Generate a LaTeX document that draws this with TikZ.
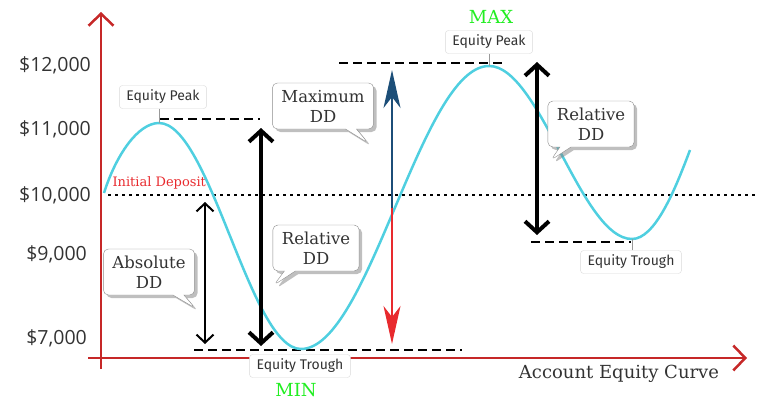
\documentclass[tikz,border=0pt]{standalone}
\usepackage{fontspec}
\setmainfont{DejaVu Serif}
\setsansfont{Open Sans}
\newfontfamily\tagsf{Fira Sans}
\usetikzlibrary{arrows.meta,shapes.callouts,shadows}
\definecolor{axisred}{HTML}{C62828}
\definecolor{curvecyan}{HTML}{4FCFE0}
\definecolor{maxblue}{HTML}{1C4E78}
\definecolor{minred}{HTML}{E82A2E}
\definecolor{txtgray}{HTML}{333333}
\definecolor{hitgreen}{HTML}{22EE22}
\begin{document}
\begin{tikzpicture}[x=1pt,y=-1pt,
  axis/.style={axisred,line width=2.5pt,-{Straight Barb[length=12pt,width=25pt]}},
  level/.style={line width=2pt,dash pattern=on 9pt off 5pt},
  tick/.style={anchor=east,inner xsep=0pt,text=txtgray,font=\sffamily\fontsize{19.5}{22}\selectfont},
  tag/.style={draw=black!15,fill=white,rounded corners=3pt,text=txtgray,font=\tagsf\fontsize{14}{16}\selectfont,minimum height=23pt,inner xsep=7pt},
  bubble/.style={rectangle callout,draw=black!45,fill=white,rounded corners=5pt,text=txtgray,font=\fontsize{16.5}{20}\selectfont,align=center,minimum height=46pt,inner xsep=9pt,callout pointer width=11pt,drop shadow={opacity=.5,shadow xshift=3pt,shadow yshift=-3pt}},
  ddthin/.style={line width=2pt,{Straight Barb[length=8pt,width=17pt]}-{Straight Barb[length=8pt,width=17pt]}},
  ddthick/.style={line width=4pt,{Straight Barb[length=11pt,width=24pt]}-{Straight Barb[length=11pt,width=24pt]}},
  mdtip/.style={-{Stealth[length=38pt,width=17pt,inset=11pt]}}]
\useasboundingbox (0,0) rectangle (768,404);
\draw[axis] (101,369) -- (101,12);
\draw[axis] (88,358) -- (747,358);
\node[tick] (l12) at (91,65) {\$12,000};
\node[tick] (l11) at (91,129) {\$11,000};
\node[tick] (l10) at (91,195) {\$10,000};
\node[tick] (l9) at (87,254) {\$9,000};
\node[tick] (l7) at (87,338) {\$7,000};
\draw[line width=2.5pt,dash pattern=on 2.5pt off 4.5pt] (108,195) -- (756,195);
\node[text=minred,anchor=west,font=\fontsize{13}{15}\selectfont] (initl) at (109,183) {Initial Deposit};
\draw[level] (160,119) -- (260,119);
\draw[level] (339,63) -- (506,63);
\draw[level] (194,350) -- (462,350);
\draw[level] (531,242) -- (631,242);
\coordinate (cst) at (104,193);
\coordinate (pk1) at (159,123);
\coordinate (tr1) at (301,349);
\coordinate (pk2) at (489,66);
\coordinate (tr2) at (632,239);
\coordinate (cend) at (690,150);
\draw[curvecyan,line width=2.5pt] (cst) .. controls +(12,-38) and +(-21,0) .. (pk1)
  .. controls +(51,0) and +(-51,0) .. (tr1) .. controls +(68,0) and +(-68,0) .. (pk2)
  .. controls +(51,0) and +(-51,0) .. (tr2) .. controls +(23,0) and +(-15,40) .. (cend);
\node[tag] (peakA) at (163,97) {Equity Peak};
\node[tag] (peakB) at (489,42) {Equity Peak};
\node[tag] (troughA) at (300,366) {Equity Trough};
\node[tag] (troughB) at (631,262) {Equity Trough};
\draw[black!40] (peakA.south -| pk1) -- (pk1);
\draw[black!40] (peakB.south) -- (pk2);
\draw[black!40] (troughB.north -| tr2) -- (tr2);
\node[text=hitgreen,font=\fontsize{18}{20}\selectfont] (maxl) at (491,17) {MAX};
\node[text=hitgreen,font=\fontsize{18}{20}\selectfont] (minl) at (296,390) {MIN};
\node[text=txtgray,font=\fontsize{18}{20}\selectfont] (xlab) at (619,374) {Account Equity Curve};
\coordinate (ab1) at (205,202);
\coordinate (ab2) at (205,344);
\coordinate (re1) at (261,128);
\coordinate (re2) at (261,346);
\coordinate (rf1) at (537,62);
\coordinate (rf2) at (537,235);
\coordinate (mdtop) at (392,70);
\coordinate (mdmid) at (392,208);
\coordinate (mdbot) at (392,344);
\draw[ddthin] (ab1) -- (ab2);
\draw[ddthick] (re1) -- (re2);
\draw[ddthick] (rf1) -- (rf2);
\draw[maxblue,line width=2pt,mdtip] (mdmid) -- (mdtop);
\draw[minred,line width=2pt,mdtip] (mdmid) -- (mdbot);
\node[bubble,callout absolute pointer={(368,143)}] (maxdd) at (323,106) {Maximum\\DD};
\node[bubble,callout absolute pointer={(551,160)}] (relB) at (591,124) {Relative\\DD};
\node[bubble,callout absolute pointer={(195,308)}] (absdd) at (149,272) {Absolute\\DD};
\node[bubble,callout absolute pointer={(274,285)}] (relA) at (316,248) {Relative\\DD};
\end{tikzpicture}
\end{document}
